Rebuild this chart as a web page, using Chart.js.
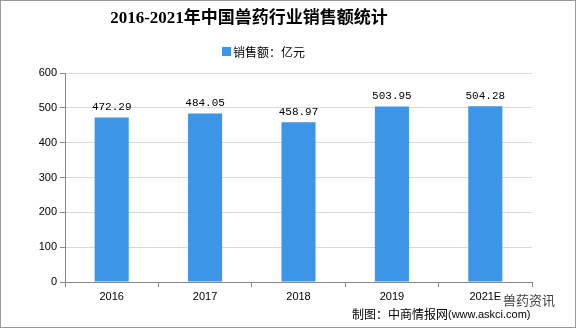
<!DOCTYPE html>
<html>
<head>
<meta charset="utf-8">
<script src="https://cdn.jsdelivr.net/npm/chart.js@4"></script>
<style>
    html, body { margin: 0; padding: 0; background: #fff; }
    #wrap { width: 576px; height: 329px; }
</style>
</head>
<body>
<div id="wrap"><canvas id="salesChart" width="576" height="329"></canvas></div>
<script>
// 2016-2021 兽药行业销售额

const years = ['2016', '2017', '2018', '2019', '2021E'];
const sales = [472.29, 484.05, 458.97, 503.95, 504.28];
const yTicks = [0, 100, 200, 300, 400, 500, 600];

const titleText = '2016-2021年中国兽药行业销售额统计';
const seriesName = '销售额：亿元';

const barColor = '#3d95e7';

const decorPlugin = {
    id: 'decor',
    beforeDraw(chart) {
        const ctx = chart.ctx;
        ctx.save();
        ctx.fillStyle = '#fff';
        ctx.fillRect(0, 0, chart.width, chart.height);
        ctx.restore();
    },
    afterDatasetsDraw(chart) {
        const ctx = chart.ctx;
        const meta = chart.getDatasetMeta(0);
        ctx.save();
        ctx.font = '11px "Liberation Mono", monospace';
        ctx.fillStyle = '#000';
        ctx.textAlign = 'center';
        ctx.textBaseline = 'bottom';
        meta.data.forEach((bar, i) => {
            ctx.fillText(sales[i].toFixed(2), bar.x, bar.y - 5);
        });
        ctx.restore();
    },
    afterDraw(chart) {
        const ctx = chart.ctx;
        ctx.save();

        // заголовок
        ctx.font = 'bold 17px "Liberation Serif", "Noto Sans CJK SC", serif';
        ctx.fillStyle = '#000';
        ctx.textAlign = 'center';
        ctx.textBaseline = 'middle';
        ctx.fillText(titleText, 249, 19);

        // легенда
        ctx.fillStyle = barColor;
        ctx.fillRect(222, 47, 9, 9);
        ctx.font = '12px "Noto Sans CJK SC", sans-serif';
        ctx.fillStyle = '#000';
        ctx.textAlign = 'left';
        ctx.fillText(seriesName, 233, 52);

        // источник
        ctx.font = '12px "Noto Sans CJK SC", sans-serif';
        ctx.textAlign = 'left';
        ctx.fillText('制图：中商情报网', 352, 314);
        ctx.font = '11px "Liberation Sans", Arial, sans-serif';
        ctx.fillText('(www.askci.com)', 448, 315);

        ctx.font = '13px "Noto Sans CJK SC", sans-serif';
        ctx.fillStyle = '#444';
        ctx.fillText('兽药资讯', 503, 300);

        // рамка
        ctx.strokeStyle = '#9a9a9a';
        ctx.lineWidth = 1;
        ctx.strokeRect(0.5, 0.5, 575, 327);
        ctx.restore();
    }
};

function renderSalesChart() {
    const ctx = document.getElementById('salesChart').getContext('2d');

    new Chart(ctx, {
        type: 'bar',
        data: {
            labels: years,
            datasets: [{
                label: seriesName,
                data: sales,
                backgroundColor: barColor,
                borderWidth: 0,
                barPercentage: 0.365,
                categoryPercentage: 1
            }]
        },
        options: {
            responsive: false,
            animation: false,
            layout: {
                padding: { top: 73, right: 44, bottom: 0, left: 0 }
            },
            plugins: {
                title: { display: false },
                legend: { display: false },
                tooltip: { enabled: false }
            },
            scales: {
                x: {
                    afterFit(scale) { scale.height = 47; },
                    grid: {
                        offset: true,
                        drawOnChartArea: false,
                        tickLength: 5,
                        tickColor: '#888'
                    },
                    border: { color: '#888' },
                    ticks: {
                        color: '#000',
                        padding: 3,
                        font: { family: '"Liberation Sans", Arial, sans-serif', size: 11 }
                    }
                },
                y: {
                    min: 0,
                    max: 600,
                    afterFit(scale) { scale.width = 65; },
                    afterBuildTicks(scale) {
                        scale.ticks = yTicks.map(v => ({ value: v }));
                    },
                    grid: {
                        color: '#d9d9d9',
                        tickLength: 5,
                        tickColor: '#888'
                    },
                    border: { color: '#888' },
                    ticks: {
                        color: '#000',
                        padding: 3,
                        font: { family: '"Liberation Sans", Arial, sans-serif', size: 11 }
                    }
                }
            }
        },
        plugins: [decorPlugin]
    });
}

renderSalesChart();
</script>
</body>
</html>
